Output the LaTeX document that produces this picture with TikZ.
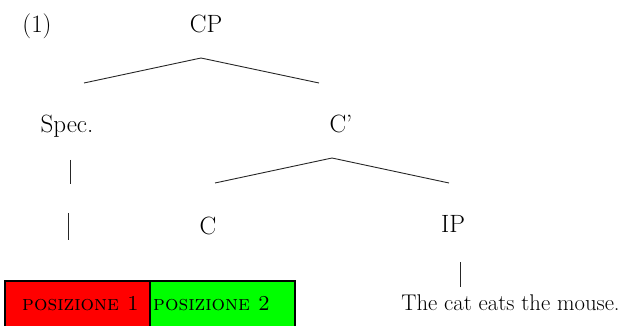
\documentclass[tikz,border=0pt]{standalone}
\usepackage{tikz}
\usepackage{xcolor}
\definecolor{posred}{RGB}{255,0,0}
\definecolor{posgreen}{RGB}{0,255,0}
\tikzset{
	word/.style={anchor=base,inner sep=0pt,font=\fontsize{25}{29}\selectfont},
	sentence/.style={anchor=base,inner sep=0pt,font=\fontsize{22.7}{26}\selectfont},
	caps/.style={anchor=base,inner sep=0pt,font=\fontsize{21.2}{25}\selectfont\scshape},
	branch/.style={line width=0.9pt,black!85},
	slot/.style={draw=black,line width=1.6pt,minimum width=145pt,minimum height=48pt,inner sep=0pt}
}
\begin{document}
\begin{tikzpicture}[x=1pt,y=-1pt]
			\useasboundingbox (0,0) rectangle (619,326);
			\coordinate (cptop) at (201,58);
			\coordinate (cpleft) at (84,83);
			\coordinate (cpright) at (319,83);
			\coordinate (cbtop) at (332,158);
			\coordinate (cbleft) at (215,183);
			\coordinate (cbright) at (449,183);
			\coordinate (spa) at (70,160);
			\coordinate (spb) at (70,184);
			\coordinate (spc) at (68,213);
			\coordinate (spd) at (68,240);
			\coordinate (ipa) at (460,262);
			\coordinate (ipb) at (460,287);
			\node[word] (num) at (37,33) {(1)};
			\node[word] (cp) at (206,33) {CP};
			\node[word] (spec) at (67,133) {Spec.};
			\node[word] (cbar) at (341,133) {C'};
			\node[word] (c) at (208,234) {C};
			\node[word] (ip) at (453,233) {IP};
			\node[sentence] (sent) at (510.5,310) {The cat eats the mouse.};
			\node[slot,fill=posred] (pos1) at (77.5,305) {};
			\node[slot,fill=posgreen] (pos2) at (222.5,305) {};
			\node[caps] (lab1) at (80.5,310) {posizione 1};
			\node[caps] (lab2) at (211.5,310) {posizione 2};
			\draw[branch] (cpleft) -- (cptop) -- (cpright);
			\draw[branch] (cbleft) -- (cbtop) -- (cbright);
			\foreach \Top/\Bot in {spa/spb,spc/spd,ipa/ipb}
				\draw[branch] (\Top) -- (\Bot);
		\end{tikzpicture}
\end{document}
